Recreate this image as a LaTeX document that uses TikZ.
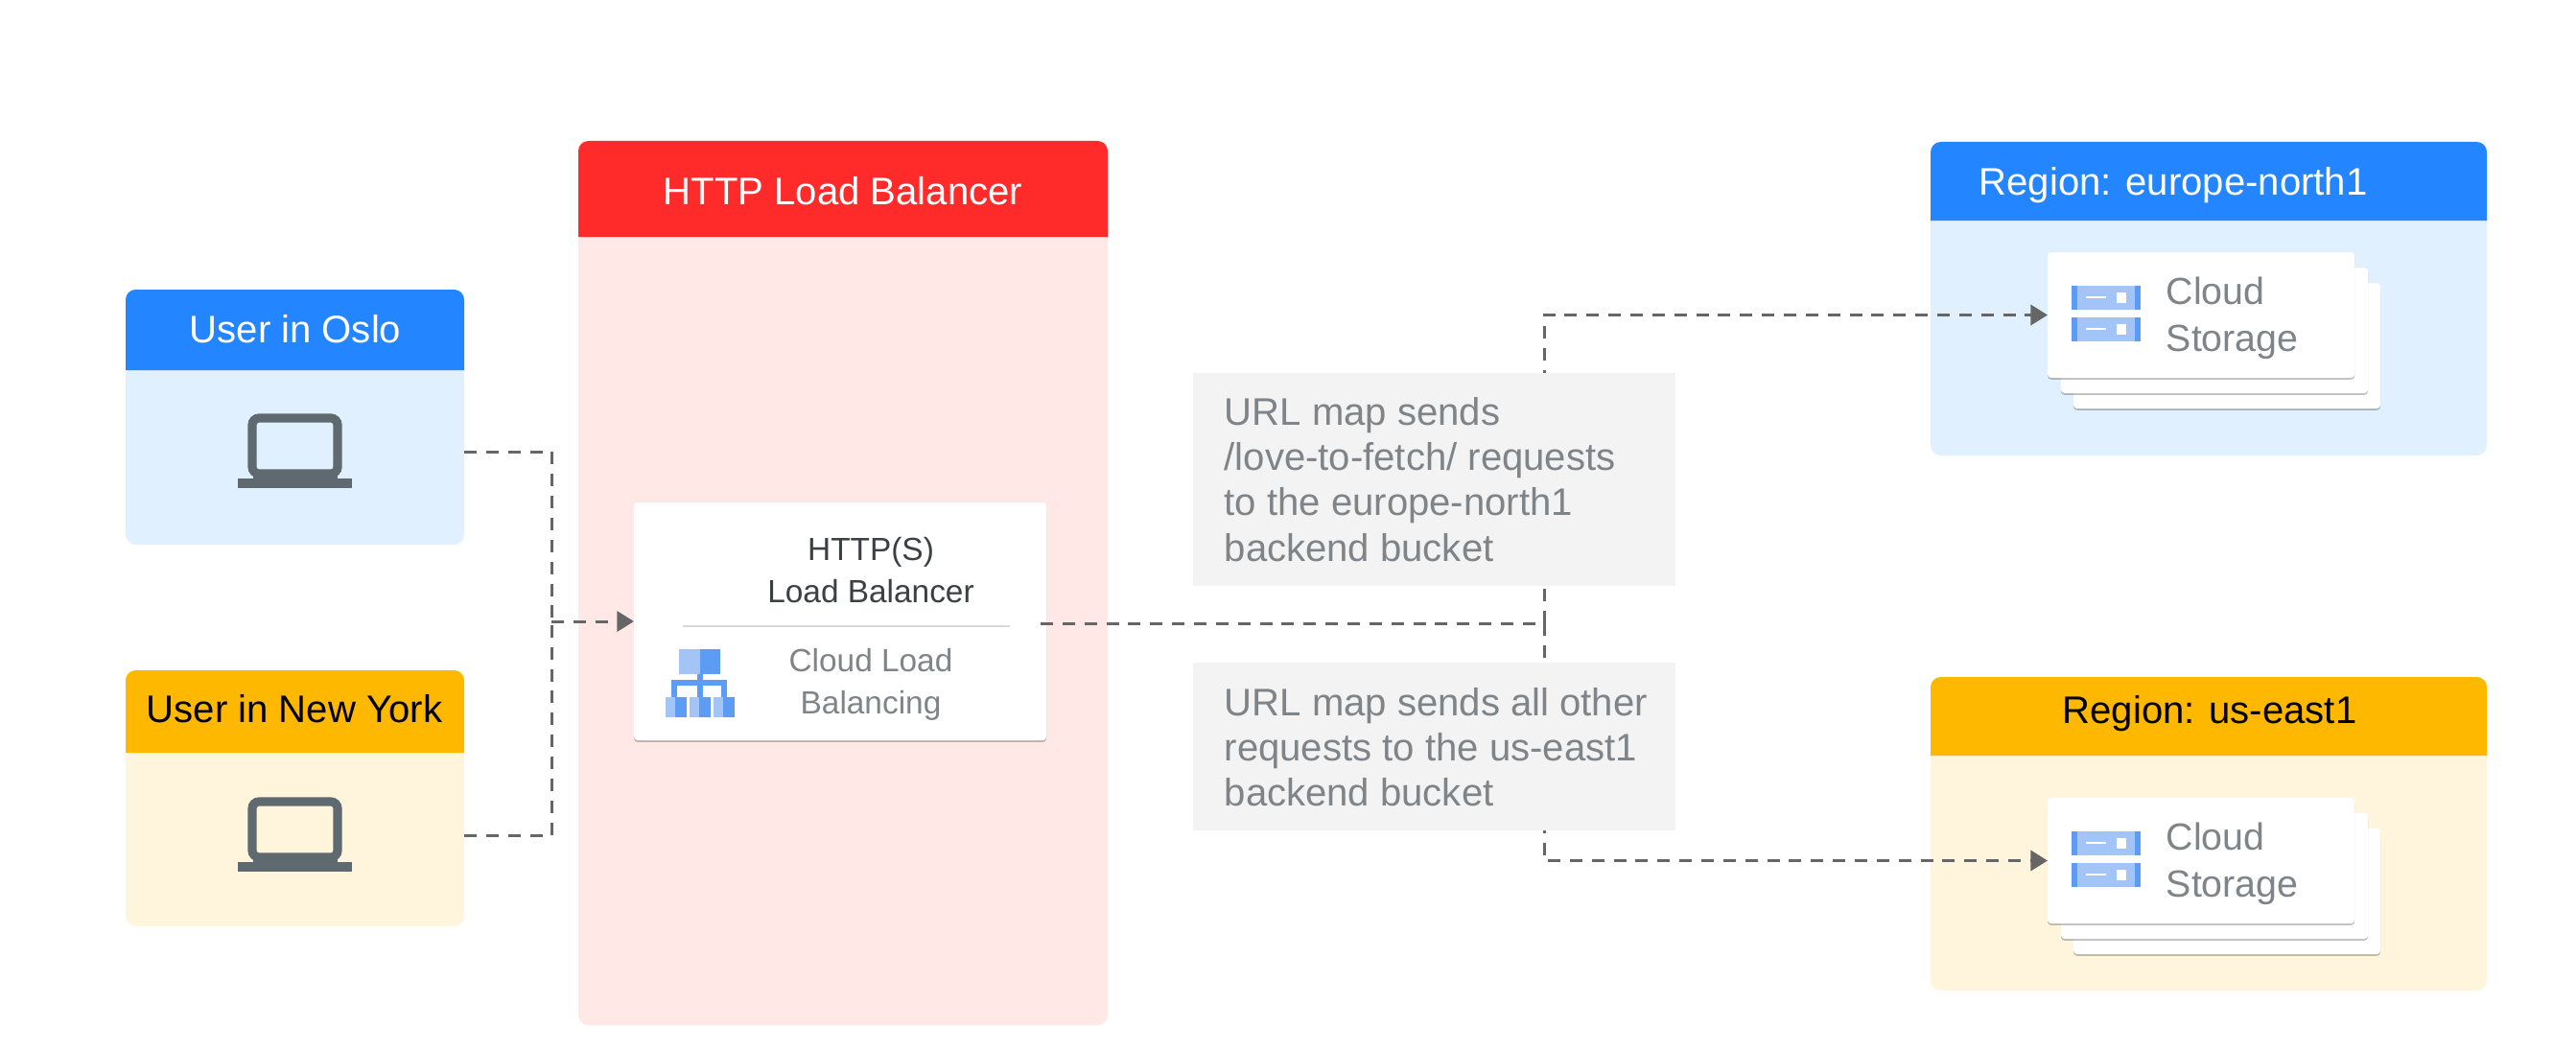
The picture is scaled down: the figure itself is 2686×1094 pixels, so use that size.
\documentclass[tikz,border=0pt]{standalone}
\usepackage{fontspec}
\setmainfont{Liberation Sans}
\usepackage{xcolor}
\usetikzlibrary{arrows.meta, fit, shadows}

\definecolor{hdrblue}{HTML}{2385FF}
\definecolor{bodyblue}{HTML}{E1F0FF}
\definecolor{hdramber}{HTML}{FFB800}
\definecolor{bodyamber}{HTML}{FFF5DD}
\definecolor{hdrred}{HTML}{FF2B2B}
\definecolor{bodyred}{HTML}{FFE8E6}
\definecolor{notegray}{HTML}{F3F3F3}
\definecolor{linegray}{HTML}{666666}
\definecolor{pcgray}{HTML}{5F6970}
\definecolor{txtgray}{HTML}{7F8488}
\definecolor{txtdark}{HTML}{3C4043}
\definecolor{iconlight}{HTML}{A3C4F7}
\definecolor{iconblue}{HTML}{5C9CF5}

\tikzset{
    panel/.style={inner sep=0pt, outer sep=0pt, rounded corners=3pt},
    headtxt/.style={font=\fontsize{11.4}{13.4}\selectfont},
    card/.style={fill=white, inner sep=0pt, outer sep=0pt, rounded corners=1pt,
        drop shadow={shadow xshift=0pt, shadow yshift=-0.5pt, opacity=0.25, fill=black}},
    link/.style={linegray, line width=0.85pt, dash pattern=on 3.7pt off 2.8pt},
    flow/.style={link, -{Triangle[length=5pt, width=6pt]}},
    note/.style={fill=notegray, inner sep=0pt, outer sep=0pt},
    notetxt/.style={txtgray, align=left, font=\fontsize{11.4}{13.4}\selectfont},
    lbtxt/.style={align=center, font=\fontsize{9.5}{12.5}\selectfont},
}

\begin{document}
\begin{tikzpicture}[x=0.01cm, y=-0.01cm]
    \useasboundingbox (0,0) rectangle (2686,1094);

    % Panels
    \foreach \name/\xa/\ya/\yb/\xb/\yc/\colh/\colb/\colt/\tx/\ty/\lab in {
        oslo/131/302/386/484/568/hdrblue/bodyblue/white/308/343/{User in Oslo},
        newyork/131/699/785/484/966/hdramber/bodyamber/black/307/739/{User in New York},
        lb/603/147/247/1155/1069/hdrred/bodyred/white/879/199/{HTTP Load Balancer},
        eu/2013/148/230/2593/475/hdrblue/bodyblue/white/2266/193/{Region: europe-north1},
        us/2013/706/788/2593/1033/hdramber/bodyamber/black/2304/744/{Region: us-east1}} {
        \node[panel, fill=\colb, fit={(\xa,\ya) (\xb,\yc)}] (\name) {};
        \fill[\colh] (\xa,\yb) [rounded corners=3pt] -- (\xa,\ya) -- (\xb,\ya)
            [sharp corners] -- (\xb,\yb) -- cycle;
        \node[headtxt, text=\colt] (\name Head) at (\tx,\ty) {\lab};
    }

    % Laptops
    \coordinate (osloPc) at (307.5,471);
    \coordinate (newyorkPc) at (307.5,871);
    \foreach \name in {osloPc, newyorkPc} {
        \begin{scope}[shift={(\name)}]
            \draw[pcgray, line width=2.6pt, rounded corners=2pt] (-44.5,-35) rectangle (44.5,23);
            \fill[pcgray] (-59.5,28) rectangle (59.5,38);
            \fill[pcgray] (-44,20) rectangle (44,30);
        \end{scope}
    }

    % Load balancer card
    \node[card, fit={(661,524) (1091,772)}] (lbCard) {};
    \draw[black!15, line width=0.4pt] (712,653) -- (1053,653);
    \node[lbtxt, text=txtdark] (lbName) at (908,595) {HTTP(S)\\Load Balancer};
    \node[lbtxt, text=txtgray] (lbProduct) at (908,714) {Cloud Load\\Balancing};

    % Load balancer icon
    \fill[iconlight] (708,677) rectangle (730,703);
    \fill[iconblue] (730,677) rectangle (751,703);
    \fill[iconblue] (727,703) rectangle (733,716);
    \draw[iconblue, line width=1.6pt] (703,727) -- (703,712) -- (755,712) -- (755,727);
    \draw[iconblue, line width=1.6pt] (730,712) -- (730,727);
    \foreach \x in {694, 719, 744} {
        \fill[iconlight] (\x,727) rectangle (\x+10,748);
        \fill[iconblue] (\x+10,727) rectangle (\x+22,748);
    }

    % Storage cards
    \foreach \reg/\ytop in {eu/263, us/832} {
        \foreach \dx/\dy in {27/32, 14/16} {
            \node[card, fit={(2135+\dx,\ytop+\dy) (2455+\dx,\ytop+131+\dy)}] (\reg Back\dx) {};
        }
        \node[card, fit={(2135,\ytop) (2455,\ytop+131)}] (\reg Card) {};
        \foreach \dy in {35, 68} {
            \fill[iconlight] (2160,\ytop+\dy) rectangle (2232,\ytop+\dy+25);
            \fill[iconblue] (2160,\ytop+\dy) rectangle (2166,\ytop+\dy+25);
            \fill[iconblue] (2226,\ytop+\dy) rectangle (2232,\ytop+\dy+25);
            \fill[white] (2175,\ytop+\dy+11) rectangle (2196,\ytop+\dy+13);
            \fill[white] (2207,\ytop+\dy+7) rectangle (2217,\ytop+\dy+18);
        }
        \node[txtgray, anchor=west, align=left, inner sep=0pt, font=\fontsize{11.2}{14}\selectfont]
            (\reg Label) at (2258,\ytop+69) {Cloud\\Storage};
    }

    % Connectors
    \coordinate (busL) at (575,648);
    \coordinate (busR) at (1610,650);
    \draw[link] (oslo.east |- osloPc) -| (busL);
    \draw[link] (newyork.east |- newyorkPc) -| (busL);
    \draw[flow] (busL) -- (lbCard.west);
    \draw[link, shorten <=-0.06cm] (lbCard.east |- busR) -- (busR);
    \draw[flow] (busR) |- (euCard.west);
    \draw[flow] (busR) |- (usCard.west);

    % Notes
    \node[note, fit={(1244,389) (1747,611)}] (noteEu) {};
    \node[note, fit={(1244,691) (1747,866)}] (noteUs) {};
    \node[notetxt, anchor=west, inner sep=0pt] (noteEuTxt) at (1276,500)
        {URL map sends\\/love-to-fetch/ requests\\to the europe-north1\\backend bucket};
    \node[notetxt, anchor=west, inner sep=0pt] (noteUsTxt) at (1276,779)
        {URL map sends all other\\requests to the us-east1\\backend bucket};
\end{tikzpicture}
\end{document}
